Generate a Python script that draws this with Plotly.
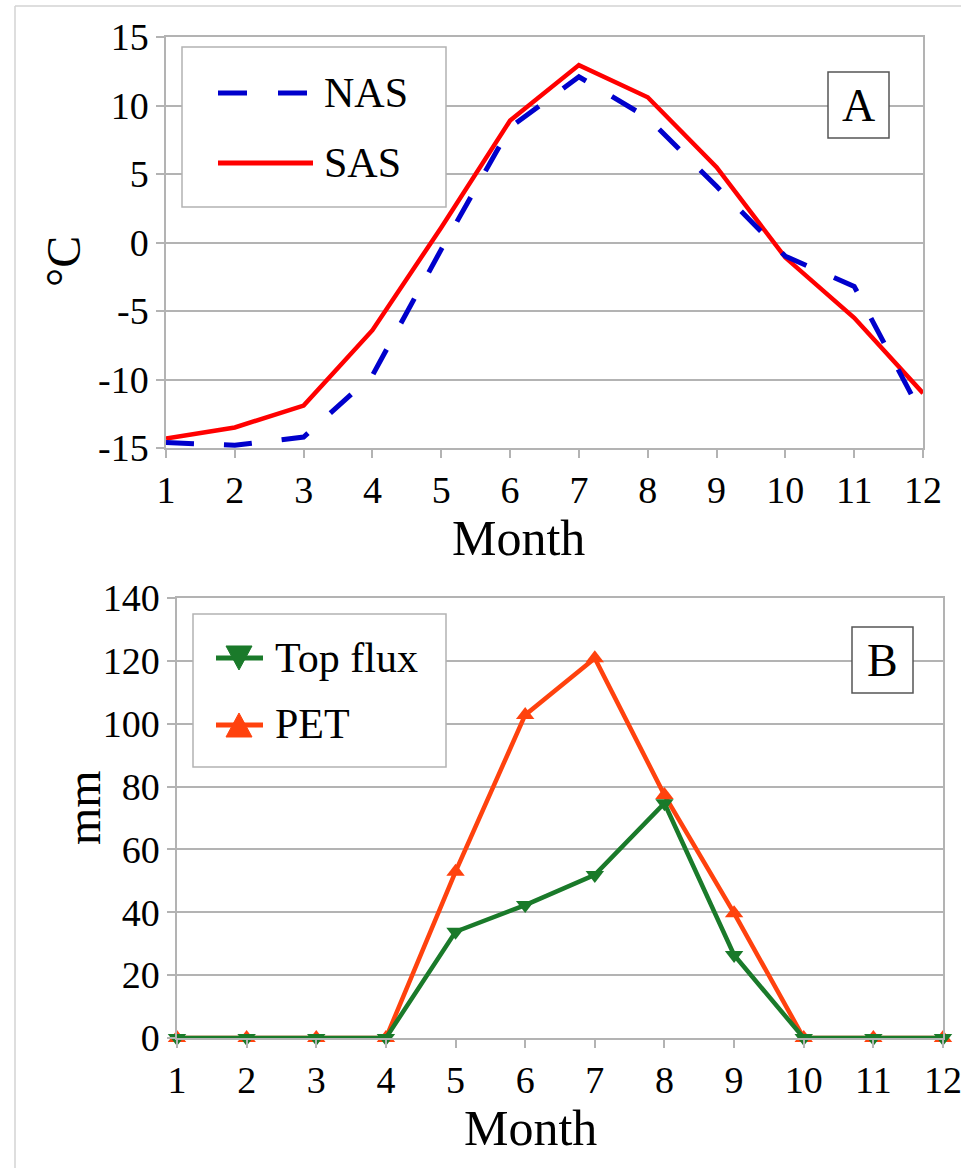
import plotly.graph_objects as go

months = list(range(1, 13))
nas = [-14.6, -14.8, -14.2, -9.7, -0.5, 8.4, 12.1, 9.1, 4.1, -1.0, -3.2, -12.7]
sas = [-14.3, -13.5, -11.9, -6.4, 1.1, 8.9, 12.95, 10.6, 5.5, -1.1, -5.5, -11.0]
top_flux = [0, 0, 0, 0, 33.8, 42.3, 51.9, 74.7, 26.4, 0, 0, 0]
pet = [0, 0, 0, 0, 52.9, 102.8, 120.8, 77.3, 39.7, 0, 0, 0]
temp_ticks = [-15, -10, -5, 0, 5, 10, 15]
temp_labels = ["-15", "-10", "-5", "0", "5", "10", "15"]
mm_ticks = [0, 20, 40, 60, 80, 100, 120, 140]
mm_labels = ["0", "20", "40", "60", "80", "100", "120", "140"]

W, H = 961, 1168
FONT = "Liberation Serif"
GRID = "#b3b3b3"
BLUE = "#0000cc"
RED = "#ff0000"
GREEN = "#1a7a2a"
ORANGE = "#ff420e"


def px(x):
    return x / W


def py(y):
    return 1 - y / H


fig = go.Figure()
fig.add_trace(go.Scatter(x=months, y=sas, mode="lines", name="SAS",
                         line=dict(color=RED, width=4.5), cliponaxis=False,
                         xaxis="x", yaxis="y"))
fig.add_trace(go.Scatter(x=months, y=nas, mode="lines", name="NAS",
                         line=dict(color=BLUE, width=5, dash="28px,30px"), cliponaxis=False,
                         xaxis="x", yaxis="y"))
fig.add_trace(go.Scatter(x=months, y=pet, mode="lines+markers", name="PET",
                         line=dict(color=ORANGE, width=4.5),
                         marker=dict(symbol="triangle-up", size=16, color=ORANGE),
                         cliponaxis=False, xaxis="x2", yaxis="y2"))
fig.add_trace(go.Scatter(x=months, y=top_flux, mode="lines+markers", name="Top flux",
                         line=dict(color=GREEN, width=4.5),
                         marker=dict(symbol="triangle-down", size=16, color=GREEN),
                         cliponaxis=False, xaxis="x2", yaxis="y2"))

axis_common = dict(showline=True, linecolor=GRID, linewidth=1.5, mirror=True,
                   ticks="outside", ticklen=8, tickcolor=GRID, tickwidth=1.5,
                   tickfont=dict(family=FONT, size=38, color="black"), zeroline=False,
                   automargin=False, ticklabeloverflow="allow")

fig.update_layout(
    template="none",
    width=W, height=H, autosize=False,
    margin=dict(l=0, r=0, t=0, b=0, pad=0),
    font=dict(family=FONT, color="black"),
    paper_bgcolor="white", plot_bgcolor="white",
    showlegend=False,
    xaxis=dict(domain=[px(166), px(923)], range=[1, 12], tickvals=months,
               showgrid=False, anchor="y", **axis_common),
    yaxis=dict(domain=[py(448), py(37)], range=[-15, 15], tickvals=temp_ticks,
               ticktext=temp_labels,
               showgrid=True, gridcolor=GRID, gridwidth=1.5, anchor="x", **axis_common),
    xaxis2=dict(domain=[px(177), px(943)], range=[1, 12], tickvals=months,
                showgrid=False, anchor="y2", **axis_common),
    yaxis2=dict(domain=[py(1038), py(598)], range=[0, 140], tickvals=mm_ticks,
                ticktext=mm_labels,
                showgrid=True, gridcolor=GRID, gridwidth=1.5, anchor="x2", **axis_common),
)

shapes = []
# outer frame
shapes.append(dict(type="line", xref="paper", yref="paper", x0=px(15), x1=px(961),
                   y0=py(6), y1=py(6), line=dict(color="#d3d3d3", width=1.5)))
shapes.append(dict(type="line", xref="paper", yref="paper", x0=px(15), x1=px(15),
                   y0=py(6), y1=py(1168), line=dict(color="#d3d3d3", width=1.5)))


def rect(x0, y0, x1, y1, color, width=1.5):
    shapes.append(dict(type="rect", xref="paper", yref="paper", layer="above",
                       x0=px(x0), x1=px(x1), y0=py(y1), y1=py(y0),
                       line=dict(color=color, width=width), fillcolor="white"))


def seg(x0, x1, y, color, width, dash="solid"):
    shapes.append(dict(type="line", xref="paper", yref="paper", layer="above",
                       x0=px(x0), x1=px(x1), y0=py(y), y1=py(y),
                       line=dict(color=color, width=width, dash=dash)))


def tri(cx, cy, w, h, up, color):
    if up:
        pts = [(cx, cy - h / 2), (cx - w / 2, cy + h / 2), (cx + w / 2, cy + h / 2)]
    else:
        pts = [(cx, cy + h / 2), (cx - w / 2, cy - h / 2), (cx + w / 2, cy - h / 2)]
    path = "M " + " L ".join(f"{px(a):.6f},{py(b):.6f}" for a, b in pts) + " Z"
    shapes.append(dict(type="path", xref="paper", yref="paper", layer="above",
                       path=path, fillcolor=color, line=dict(color=color, width=1)))


# Legend A
rect(182, 47, 446, 207, GRID)
seg(218, 247, 93, BLUE, 5)
seg(278, 307, 93, BLUE, 5)
seg(218, 313, 163, RED, 5)
# Panel label A
rect(828, 72, 889, 138, "#555555")

# Legend B
rect(193, 614, 446, 767, GRID)
seg(216, 263, 658, GREEN, 5)
tri(239, 658, 26, 24, False, GREEN)
seg(216, 263, 725, ORANGE, 5)
tri(239, 725, 26, 24, True, ORANGE)
# Panel label B
rect(852, 627, 913, 693, "#555555")

fig.update_layout(shapes=shapes)

ann = []


def text(x, y, s, size, xanchor="left", angle=0):
    ann.append(dict(xref="paper", yref="paper", x=px(x), y=py(y), text=s,
                    showarrow=False, xanchor=xanchor, yanchor="middle", textangle=angle,
                    font=dict(family=FONT, size=size, color="black")))


text(322, 93, "NAS", 42)
text(322, 163, "SAS", 42)
text(858.5, 105, "A", 46, xanchor="center")
text(273, 658, "Top flux", 42)
text(273, 724, "PET", 42)
text(882.5, 660, "B", 46, xanchor="center")
text(518, 538, "Month", 50, xanchor="center")
text(530, 1128, "Month", 50, xanchor="center")
text(63, 262, "°C", 48, xanchor="center", angle=-90)
text(83, 808, "mm", 48, xanchor="center", angle=-90)

fig.update_layout(annotations=ann)

fig.write_html(
    "out.html",
    config={"displayModeBar": False},
    post_script="document.body.style.margin='0';document.body.style.overflow='hidden';",
)
